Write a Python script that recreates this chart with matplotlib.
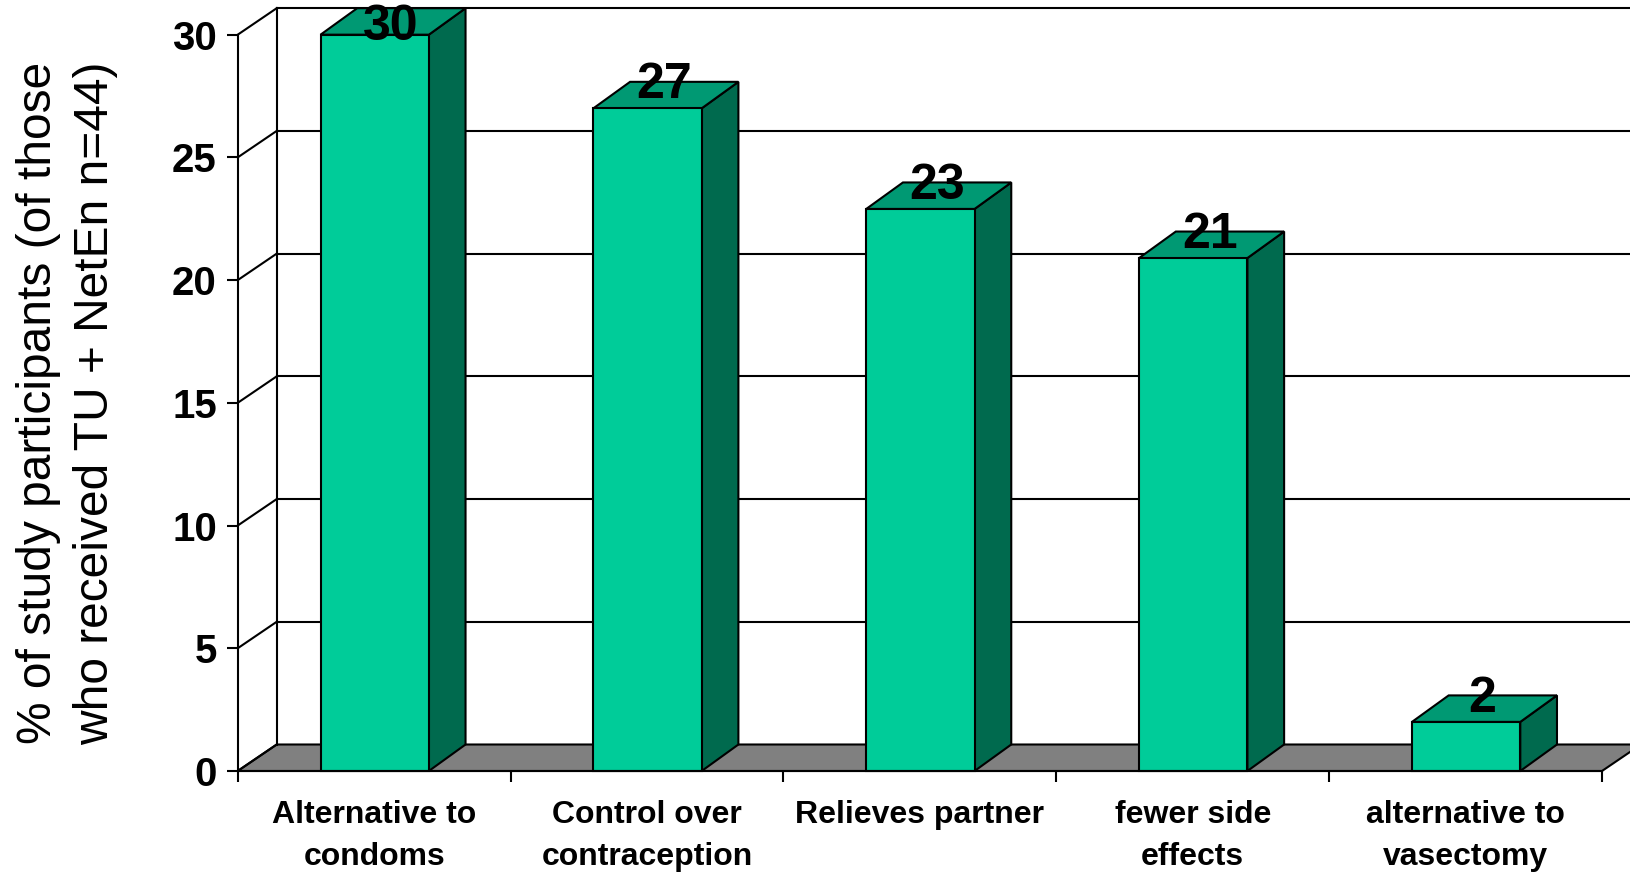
#!/usr/bin/env python3
"""Reasons for choosing the method, drawn as a pseudo-3D bar chart."""

import matplotlib
matplotlib.use("Agg")
import matplotlib.pyplot as plt
from matplotlib.patches import Polygon

plt.rcParams["font.family"] = ["Liberation Sans", "DejaVu Sans"]

categories = [
    "Alternative to\ncondoms",
    "Control over\ncontraception",
    "Relieves partner",
    "fewer side\neffects",
    "alternative to\nvasectomy",
]
# bar heights, the printed labels are rounded
values = [30, 27, 22.9, 20.9, 2]
value_labels = ["30", "27", "23", "21", "2"]
y_ticks = [0, 5, 10, 15, 20, 25, 30]
y_label = "% of study participants (of those\nwho received TU + NetEn n=44)"

FRONT = "#00CC99"
TOP = "#009973"
SIDE = "#006A4E"
FLOOR = "#808080"
LW = 1.5

W, H = 1631, 872
# plot area in pixels
LEFT, RIGHT, Y0, Y30 = 237.7, 1602.0, 771.0, 34.7

# depth of the fake 3D box, in data units
DEPTH_X = 39.0 / ((RIGHT - LEFT) / 5)
DEPTH_Y = 26.5 / ((Y0 - Y30) / 30)
BAR_DEPTH_X = 36.7 / ((RIGHT - LEFT) / 5)
BAR_W = 0.397


def poly(ax, pts, color, z):
    ax.add_patch(Polygon(pts, closed=True, facecolor=color, edgecolor="black",
                         lw=LW, joinstyle="miter", clip_on=False, zorder=z))


fig = plt.figure(figsize=(W / 100, H / 100), dpi=100)
ax = fig.add_axes([LEFT / W, 1 - Y0 / H, (RIGHT - LEFT) / W, (Y0 - Y30) / H])
ax.set_xlim(0, 5)
ax.set_ylim(0, 30)

# walls and floor
poly(ax, [(0, 0), (5, 0), (5 + DEPTH_X, DEPTH_Y), (DEPTH_X, DEPTH_Y)], FLOOR, 1)
ax.plot([DEPTH_X, DEPTH_X], [DEPTH_Y, 30 + DEPTH_Y], color="black", lw=LW, clip_on=False, zorder=1)
for v in y_ticks:
    ax.plot([0, DEPTH_X], [v, v + DEPTH_Y], color="black", lw=LW, clip_on=False, zorder=1)
    if v > 0:
        ax.plot([DEPTH_X, 5 + DEPTH_X], [v + DEPTH_Y, v + DEPTH_Y], color="black", lw=LW,
                clip_on=False, zorder=1)

# bars, each one made of three faces
for i, (v, lab) in enumerate(zip(values, value_labels)):
    x0 = i + 0.5 + 0.002 - BAR_W / 2
    x1 = x0 + BAR_W
    poly(ax, [(x1, 0), (x1 + BAR_DEPTH_X, DEPTH_Y), (x1 + BAR_DEPTH_X, v + DEPTH_Y), (x1, v)], SIDE, 3)
    poly(ax, [(x0, v), (x1, v), (x1 + BAR_DEPTH_X, v + DEPTH_Y), (x0 + BAR_DEPTH_X, v + DEPTH_Y)], TOP, 3)
    poly(ax, [(x0, 0), (x1, 0), (x1, v), (x0, v)], FRONT, 4)
    # the top label gets pushed down to stay inside the picture
    ax.text((x0 + x1) / 2 + 0.06, min(v + 1.15, 30.5), lab, ha="center", va="center_baseline",
            fontsize=36, fontweight="bold", color="black", zorder=6, clip_on=False)

for side in ["top", "right"]:
    ax.spines[side].set_visible(False)
for side in ["left", "bottom"]:
    ax.spines[side].set_linewidth(LW)
    ax.spines[side].set_zorder(5)

ax.set_yticks(y_ticks)
ax.set_xticks(range(6))
ax.set_xticklabels([])
ax.set_xticks([i + 0.5 for i in range(5)], labels=categories, minor=True)
ax.tick_params(axis="y", length=8, width=LW, pad=7, labelsize=29)
ax.tick_params(axis="x", which="major", length=8, width=LW)
ax.tick_params(axis="x", which="minor", length=0, pad=21, labelsize=23)
for lab in ax.get_yticklabels() + ax.get_xticklabels(minor=True):
    lab.set_fontweight("bold")
for lab in ax.get_xticklabels(minor=True):
    lab.set_linespacing(1.51)

ax.set_ylabel(y_label, fontsize=34.5, linespacing=1.33, ha="center", va="center")
ax.yaxis.set_label_coords(-0.1252, 0.5)

fig.savefig("out.png", dpi=100)
